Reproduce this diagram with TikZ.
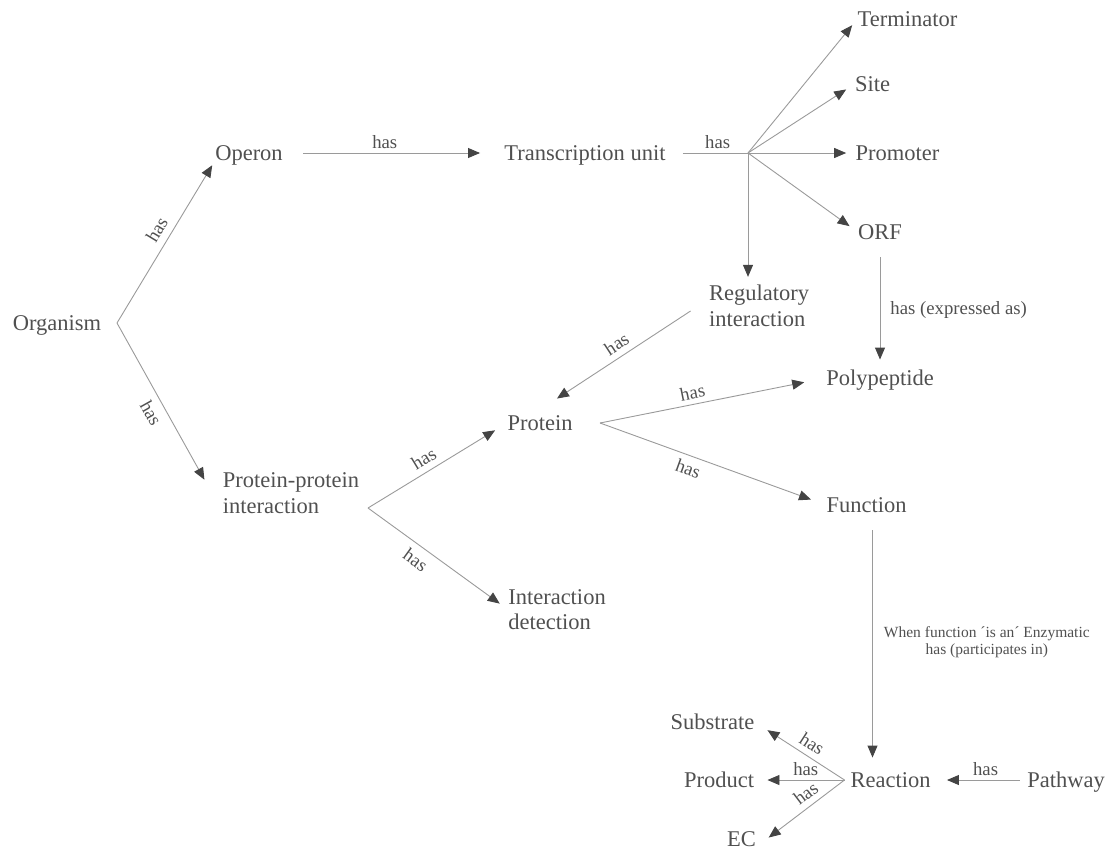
\documentclass[tikz,border=0pt]{standalone}
\usepackage{fontspec}
\setmainfont{Liberation Serif}
\usetikzlibrary{arrows.meta,positioning}
\definecolor{txtgray}{HTML}{505050}
\definecolor{linegray}{HTML}{9A9A9A}
\definecolor{tipgray}{HTML}{444444}

\begin{document}
\begin{tikzpicture}[x=1pt,y=1pt,->,>={Triangle[length=12pt,width=10pt,color=tipgray]},
                    color=linegray,line width=0.9pt,on grid]
  \tikzstyle{ent}=[font=\fontsize{22.5}{25.5}\selectfont,text=txtgray,inner sep=0pt,
                   text height=15pt,text depth=0pt]
  \tikzstyle{ent2}=[font=\fontsize{22.5}{25.5}\selectfont,text=txtgray,inner sep=0pt,align=left]
  \tikzstyle{lbl}=[font=\fontsize{18.75}{20}\selectfont,text=txtgray,inner sep=4pt,sloped]
  \tikzstyle{cond}=[font=\fontsize{18.75}{20}\selectfont,text=txtgray,inner sep=4pt]

  \useasboundingbox (0,0) rectangle (1107,-848);

  \node[ent]  (org)  at (57,-323)                          {Organism};
  \node[ent]  (oper) [above right=170pt and 192pt of org]  {Operon};
  \node[ent]  (tu)   [right=336pt of oper]                 {Transcription unit};
  \coordinate[right=163pt of tu] (hub);
  \node[ent]  (term) [above right=134pt and 322.5pt of tu] {Terminator};
  \node[ent]  (site) [above right=69pt and 287.5pt of tu]  {Site};
  \node[ent]  (prom) [right=312.5pt of tu]                 {Promoter};
  \node[ent]  (orf)  [below right=79pt and 295pt of tu]    {ORF};
  \node[ent2] (reg)  [below right=153pt and 174pt of tu]   {Regulatory\\interaction};
  \node[ent]  (poly) [below=146pt of orf]                   {Polypeptide};
  \node[ent]  (prot) [below left=117pt and 219pt of reg]    {Protein};
  \node[ent2] (ppi)  [below right=170pt and 234pt of org]   {Protein-protein\\interaction};
  \node[ent]  (func) [below left=127pt and 13.5pt of poly]  {Function};
  \node[ent2] (idet) [below right=116.5pt and 266pt of ppi] {Interaction\\detection};
  \node[ent]  (reac) [below right=275pt and 24pt of func]   {Reaction};
  \node[ent]  (sub)  [above left=58pt and 178pt of reac]    {Substrate};
  \node[ent]  (prod) [left=171.5pt of reac]                 {Product};
  \node[ent]  (ec)   [below left=59pt and 149pt of reac]    {EC};
  \node[ent]  (pway) [right=175.5pt of reac]                {Pathway};

  \coordinate[right=60pt of org] (orgfork);
  \coordinate[below right=15pt and 77pt of ppi] (ppifork);
  \coordinate[right=60pt of prot] (protfork);
  \coordinate[left=46pt of reac] (reacfork);

  \path (orgfork) edge[shorten >=5pt] node[lbl,above=3pt,pos=.53] {has} (oper.south west)
                  edge node[lbl,below=3pt,pos=.53] {has} ([xshift=-18pt,yshift=-7.5pt]ppi.north west)
        (oper) edge[shorten <=20pt,shorten >=24pt] node[lbl,above,pos=.46] {has} (tu)
        (tu)   edge[-,shorten <=17pt] node[lbl,above,pos=.63] {has} (hub)
        (hub)  edge[shorten >=8pt]  (term.west)
               edge[shorten >=10pt] (site.west)
               edge[shorten >=9pt]  (prom)
               edge[shorten >=10pt] (orf.west)
               edge[shorten >=8pt]  (hub |- reg.north)
        (orf.south) edge[shorten <=17.5pt,shorten >=10.5pt]
                      node[cond,right=6pt,pos=.54] {has (expressed as)} (orf.south |- poly.north)
        ([xshift=-18pt,yshift=-5pt]reg.west) edge node[lbl,above=2pt] {has}
                      ([xshift=-16pt,yshift=16.5pt]prot.north east)
        (protfork) edge[shorten >=22pt] node[lbl,above=1pt,pos=.42] {has} (poly.west)
                   edge[shorten >=16pt] node[lbl,below=2pt,pos=.41] {has} (func.west)
        (ppifork)  edge[shorten >=14pt] node[lbl,above=2pt,pos=.45] {has} (prot.west)
                   edge[shorten >=10pt] node[lbl,below=3pt,pos=.40] {has} (idet.west)
        ([xshift=6pt]func.south) edge[shorten <=17.5pt,shorten >=14.5pt]
                      node[cond,right=7pt,align=center,font=\fontsize{15.5}{17}\selectfont]
                      {When function ´is an´ Enzymatic\\has (participates in)}
                      ([xshift=-18pt]reac.north)
        (reacfork) edge[shorten >=15pt]   node[lbl,above=2pt,pos=.44] {has} (sub.east)
                   edge[shorten >=13pt]   node[lbl,above,pos=.43] {has} (prod)
                   edge[shorten >=15.5pt] node[lbl,above=2pt,pos=.35] {has} (ec.south east)
        (pway) edge[shorten <=7pt,shorten >=16pt] node[lbl,above,pos=.43] {has} (reac);
\end{tikzpicture}
\end{document}
